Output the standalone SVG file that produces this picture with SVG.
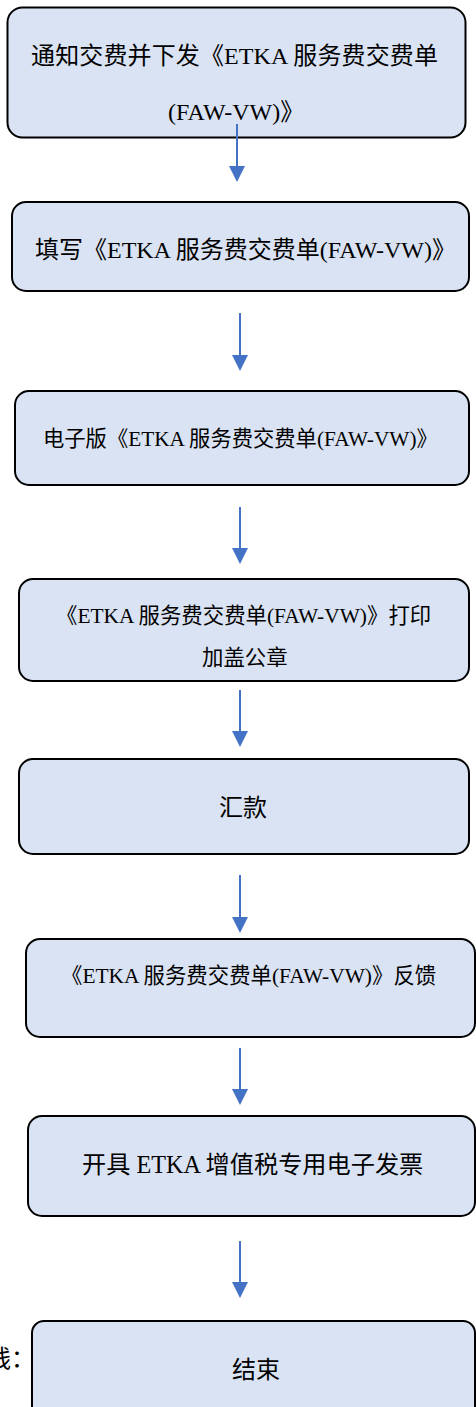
<svg xmlns="http://www.w3.org/2000/svg" width="476" height="1407" viewBox="0 0 476 1407">
<style>
.box{fill:#dae3f3;stroke:#000;stroke-width:2}
.t{font-family:"Liberation Serif","Noto Sans CJK SC",serif;fill:#000}
.cn{font-family:"Noto Sans CJK SC",sans-serif;fill:#000}
.c{stroke:#4472c4;stroke-width:2;fill:none;marker-end:url(#ah)}
</style>
<defs>
<marker id="ah" viewBox="0 0 16 16" markerWidth="16" markerHeight="16" markerUnits="userSpaceOnUse" refX="0" refY="8" orient="auto">
<path d="M0,0 L16,8 L0,16 z" fill="#4472c4"/>
</marker>
</defs>
<rect width="476" height="1407" fill="#fff"/>
<g id="n1"><rect class="box" x="7.5" y="7.5" width="458" height="130" rx="15"/>
<text class="t" x="31" y="64" font-size="24" textLength="407" lengthAdjust="spacing">通知交费并下发《ETKA 服务费交费单</text>
<text class="t" x="168" y="120" font-size="24">(FAW-VW)》</text></g>
<g id="n2"><rect class="box" x="12" y="202" width="457" height="89" rx="14"/>
<text class="t" x="35" y="258" font-size="24">填写《ETKA 服务费交费单(FAW-VW)》</text></g>
<g id="n3"><rect class="box" x="15" y="391" width="454" height="94" rx="14"/>
<text class="t" x="43" y="446" font-size="21.3">电子版《ETKA 服务费交费单(FAW-VW)》</text></g>
<g id="n4"><rect class="box" x="19" y="579" width="450" height="102" rx="14"/>
<text class="t" x="56" y="623" font-size="21.4">《ETKA 服务费交费单(FAW-VW)》打印</text>
<text class="cn" x="202" y="665" font-size="21.4">加盖公章</text></g>
<g id="n5"><rect class="box" x="19" y="759" width="450" height="95" rx="14"/>
<text class="cn" x="219" y="816" font-size="24">汇款</text></g>
<g id="n6"><rect class="box" x="26" y="939" width="449" height="98" rx="14"/>
<text class="t" x="61" y="983" font-size="21.4">《ETKA 服务费交费单(FAW-VW)》反馈</text></g>
<g id="n7"><rect class="box" x="28" y="1116" width="447" height="100" rx="14"/>
<text class="t" x="82" y="1173" font-size="24.2">开具 ETKA 增值税专用电子发票</text></g>
<g id="n8"><rect class="box" x="32" y="1321" width="443" height="100" rx="12"/>
<text class="cn" x="232" y="1378" font-size="24">结束</text></g>
<text class="cn" x="-13" y="1367" font-size="24">线：</text>
<g id="connectors">
<line class="c" x1="237" y1="124" x2="237" y2="166"/>
<line class="c" x1="240" y1="313" x2="240" y2="355"/>
<line class="c" x1="240" y1="507" x2="240" y2="548"/>
<line class="c" x1="240" y1="690" x2="240" y2="731"/>
<line class="c" x1="240" y1="875" x2="240" y2="917"/>
<line class="c" x1="240" y1="1048" x2="240" y2="1089"/>
<line class="c" x1="240" y1="1241" x2="240" y2="1282"/>
</g>
</svg>
